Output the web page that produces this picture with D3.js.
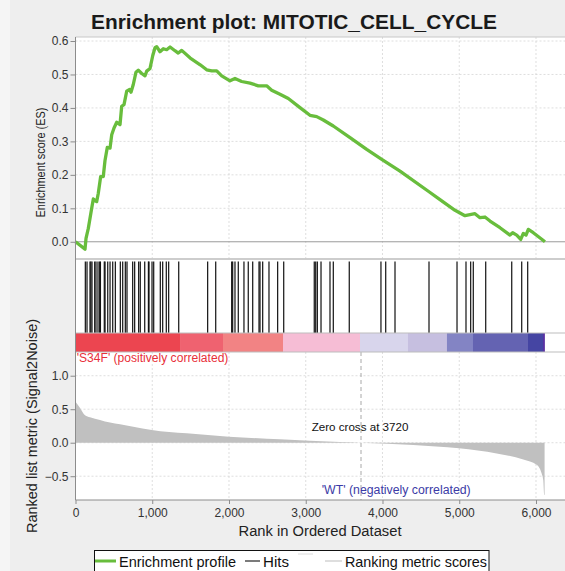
<!DOCTYPE html>
<html lang="en">
<head>
<meta charset="UTF-8" />
<title>Enrichment plot: MITOTIC_CELL_CYCLE</title>
<script src="https://d3js.org/d3.v7.min.js"></script>
<style>
    body { margin: 0; background: #eeeeee; }
    svg { display: block; font-family: "Liberation Sans", Arial, sans-serif; }
</style>
</head>
<body>
<script>
    // Data
    var esPoints = [[0, 0], [124, -0.022], [137, 0.01], [167, 0.04], [211, 0.10], [232, 0.128], [276, 0.12],
        [297, 0.145], [328, 0.195], [362, 0.195], [384, 0.242], [414, 0.282], [450, 0.28], [472, 0.32],
        [502, 0.34], [537, 0.357], [580, 0.35], [602, 0.405], [632, 0.41], [667, 0.45], [701, 0.455],
        [723, 0.447], [753, 0.47], [788, 0.507], [818, 0.513], [863, 0.503], [906, 0.496], [928, 0.51],
        [971, 0.518], [1006, 0.556], [1036, 0.58], [1058, 0.583], [1101, 0.568], [1144, 0.577],
        [1188, 0.574], [1232, 0.582], [1296, 0.571], [1339, 0.564], [1384, 0.572], [1495, 0.549],
        [1625, 0.529], [1709, 0.514], [1775, 0.511], [1840, 0.511], [1905, 0.496], [2013, 0.481],
        [2078, 0.488], [2165, 0.479], [2274, 0.474], [2382, 0.466], [2491, 0.466], [2556, 0.453],
        [2664, 0.441], [2773, 0.428], [2925, 0.401], [3055, 0.378], [3143, 0.374], [3229, 0.364],
        [3359, 0.346], [3577, 0.311], [3794, 0.276], [3990, 0.246], [4228, 0.211], [4597, 0.151],
        [4749, 0.126], [4945, 0.094], [5075, 0.078], [5205, 0.084], [5270, 0.072], [5335, 0.074],
        [5401, 0.062], [5531, 0.042], [5661, 0.02], [5696, 0.027], [5749, 0.02], [5801, 0.007],
        [5835, 0.025], [5870, 0.02], [5900, 0.037], [5965, 0.027], [6117, 0]];

    var hitRanks = [128, 150, 189, 200, 215, 250, 267, 293, 315, 325, 375, 385, 420, 450, 485, 519,
        584, 615, 649, 671, 745, 771, 823, 844, 902, 950, 958, 997, 1019, 1105, 1136, 1183, 1214, 1345,
        1722, 1827, 2035, 2048, 2078, 2121, 2195, 2251, 2309, 2391, 2404, 2439, 2521, 2634, 2713,
        3111, 3130, 3151, 3199, 3316, 3359, 3567, 3980, 4042, 4163, 4606, 4971, 5088, 5149, 5183,
        5345, 5684, 5814, 5892];

    var metricPoints = [[0, 0.61], [59, 0.52], [124, 0.41], [189, 0.38], [319, 0.34], [450, 0.30],
        [580, 0.275], [753, 0.24], [993, 0.19], [1449, 0.14], [2000, 0.09], [2664, 0.05], [3446, 0.01],
        [3720, 0], [4401, -0.034], [4997, -0.084], [5488, -0.16], [5835, -0.25], [6009, -0.33],
        [6074, -0.46], [6095, -0.56], [6108, -0.78], [6112, -0.78]];

    var barStops = [0, 1362, 1922, 2704, 3707, 4332, 4840, 5179, 5896, 6091, 6112];
    var barColors = ["#ec4550", "#ef6270", "#f28384", "#f6bdd5", "#d8d5ec", "#c6bfe0",
        "#8384c4", "#6463b2", "#4545a3", "#5a32a2"];

    var esTicks = [0, 0.1, 0.2, 0.3, 0.4, 0.5, 0.6];
    var metricTicks = [-0.5, 0, 0.5, 1.0];
    var rankTicks = [0, 1000, 2000, 3000, 4000, 5000, 6000];
    var zeroCross = 3720;

    var w = 565;
    var h = 571;
    var left = 75.5, right = 565;
    var esTop = 37, esBottom = 258.5;
    var hitTop = 259, hitBottom = 333;
    var barTop = 333, barBottom = 352;
    var metTop = 352, metBottom = 500;

    var svg = d3.select("body")
        .append("svg")
        .attr("width", w)
        .attr("height", h);

    // Scales
    var xScale = d3.scaleLinear().domain([0, 6378]).range([left, right]);
    var esScale = d3.scaleLinear().domain([-0.05, 0.612]).range([esBottom, esTop]);
    var metScale = d3.scaleLinear().domain([-0.855, 1.354]).range([metBottom, metTop]);

    // Background
    svg.append("rect").attr("width", w).attr("height", h).attr("fill", "#eeeeee");
    svg.append("rect").attr("width", 10).attr("height", h).attr("fill", "#f5f5f5");
    svg.append("rect")
        .attr("x", left).attr("y", esTop)
        .attr("width", right - left).attr("height", metBottom - esTop)
        .attr("fill", "white");

    // Grid
    var grid = svg.append("g")
        .attr("stroke", "#d6d6d6")
        .attr("stroke-dasharray", "2,2")
        .attr("stroke-width", 0.8);

    grid.selectAll(".esh").data(esTicks.filter(function(d) { return d > 0; }))
        .enter().append("line")
        .attr("x1", left).attr("x2", right)
        .attr("y1", function(d) { return esScale(d); })
        .attr("y2", function(d) { return esScale(d); });

    grid.selectAll(".esv").data(rankTicks.slice(1))
        .enter().append("line")
        .attr("x1", function(d) { return xScale(d); })
        .attr("x2", function(d) { return xScale(d); })
        .attr("y1", esTop).attr("y2", esBottom);

    grid.selectAll(".mh").data(metricTicks)
        .enter().append("line")
        .attr("x1", left).attr("x2", right)
        .attr("y1", function(d) { return metScale(d); })
        .attr("y2", function(d) { return metScale(d); });

    grid.selectAll(".mv").data(rankTicks.slice(1))
        .enter().append("line")
        .attr("x1", function(d) { return xScale(d); })
        .attr("x2", function(d) { return xScale(d); })
        .attr("y1", metTop).attr("y2", metBottom);

    // ES zero line
    svg.append("line")
        .attr("x1", left).attr("x2", right)
        .attr("y1", esScale(0)).attr("y2", esScale(0))
        .attr("stroke", "#9a9a9a").attr("stroke-width", 1);

    // Ranked metric area
    var area = d3.area()
        .x(function(d) { return xScale(d[0]); })
        .y0(metScale(0))
        .y1(function(d) { return metScale(d[1]); })
        .curve(d3.curveMonotoneX);

    svg.append("path")
        .datum(metricPoints)
        .attr("d", area)
        .attr("fill", "#c0c0c0");

    // Zero cross marker
    svg.append("line")
        .attr("x1", xScale(zeroCross)).attr("x2", xScale(zeroCross))
        .attr("y1", barBottom).attr("y2", metBottom)
        .attr("stroke", "#a8a8a8")
        .attr("stroke-dasharray", "4,3");

    // Enrichment profile
    var line = d3.line()
        .x(function(d) { return xScale(d[0]); })
        .y(function(d) { return esScale(d[1]); });

    svg.append("path")
        .datum(esPoints)
        .attr("d", line)
        .attr("fill", "none")
        .attr("stroke", "#68bd3c")
        .attr("stroke-width", 3.3)
        .attr("stroke-linejoin", "round");

    // Hits
    svg.selectAll(".hit").data(hitRanks)
        .enter().append("line")
        .attr("x1", function(d) { return xScale(d); })
        .attr("x2", function(d) { return xScale(d); })
        .attr("y1", hitTop + 2.5).attr("y2", hitBottom)
        .attr("stroke", "#111")
        .attr("stroke-width", 1.2);

    // Colour bar
    svg.selectAll(".band").data(barColors)
        .enter().append("rect")
        .attr("x", function(d, i) { return xScale(barStops[i]); })
        .attr("width", function(d, i) { return xScale(barStops[i + 1]) - xScale(barStops[i]) + 0.3; })
        .attr("y", barTop).attr("height", barBottom - barTop)
        .attr("fill", function(d) { return d; });

    // Panel borders
    var borders = [[esTop, "#c8c8c8", 1], [hitTop, "#bdbdbd", 1.5], [barTop, "#bdbdbd", 1], [barBottom, "#bdbdbd", 1]];
    svg.selectAll(".border").data(borders)
        .enter().append("line")
        .attr("x1", left).attr("x2", right)
        .attr("y1", function(d) { return d[0]; })
        .attr("y2", function(d) { return d[0]; })
        .attr("stroke", function(d) { return d[1]; })
        .attr("stroke-width", function(d) { return d[2]; });

    svg.append("line")
        .attr("x1", left).attr("x2", left)
        .attr("y1", esTop).attr("y2", metBottom)
        .attr("stroke", "#8c8c8c");
    svg.append("line")
        .attr("x1", left).attr("x2", right)
        .attr("y1", metBottom).attr("y2", metBottom)
        .attr("stroke", "#8c8c8c");

    // Axes
    var esAxis = svg.append("g")
        .attr("transform", "translate(" + left + ",0)")
        .call(d3.axisLeft(esScale).tickValues(esTicks).tickFormat(d3.format(".1f")).tickSize(5).tickPadding(2));

    var metAxis = svg.append("g")
        .attr("transform", "translate(" + left + ",0)")
        .call(d3.axisLeft(metScale).tickValues(metricTicks).tickFormat(d3.format(".1f")).tickSize(5).tickPadding(2));

    var rankAxis = svg.append("g")
        .attr("transform", "translate(0," + metBottom + ")")
        .call(d3.axisBottom(xScale).tickValues(rankTicks).tickFormat(d3.format(",")).tickSize(4).tickPadding(4));

    [esAxis, metAxis, rankAxis].forEach(function(a) {
        a.select(".domain").remove();
        a.selectAll("line").attr("stroke", "#8c8c8c");
        a.selectAll("text")
            .attr("fill", "#333")
            .style("font-family", "Liberation Sans, Arial, sans-serif")
            .style("font-size", "12px");
    });

    // Titles and labels
    svg.append("text")
        .attr("x", 294).attr("y", 28.5)
        .attr("text-anchor", "middle")
        .attr("textLength", 406)
        .attr("lengthAdjust", "spacingAndGlyphs")
        .style("font-size", "20.9px")
        .style("font-weight", "bold")
        .attr("fill", "#1a1a1a")
        .text("Enrichment plot: MITOTIC_CELL_CYCLE");

    svg.append("text")
        .attr("x", 320).attr("y", 536)
        .attr("text-anchor", "middle")
        .attr("textLength", 163)
        .attr("lengthAdjust", "spacingAndGlyphs")
        .style("font-size", "14.7px")
        .attr("fill", "#222")
        .text("Rank in Ordered Dataset");

    svg.append("text")
        .attr("transform", "translate(45,162.5) rotate(-90)")
        .attr("text-anchor", "middle")
        .attr("textLength", 110)
        .attr("lengthAdjust", "spacingAndGlyphs")
        .style("font-size", "13.5px")
        .attr("fill", "#222")
        .text("Enrichment score (ES)");

    svg.append("text")
        .attr("transform", "translate(37,426) rotate(-90)")
        .attr("text-anchor", "middle")
        .attr("textLength", 214)
        .attr("lengthAdjust", "spacingAndGlyphs")
        .style("font-size", "14.5px")
        .attr("fill", "#222")
        .text("Ranked list metric (Signal2Noise)");

    svg.append("text")
        .attr("x", 76.7).attr("y", 362)
        .attr("textLength", 151.7)
        .attr("lengthAdjust", "spacingAndGlyphs")
        .style("font-size", "12px")
        .attr("fill", "#e8303a")
        .text("'S34F' (positively correlated)");

    svg.append("text")
        .attr("x", 321.7).attr("y", 494)
        .attr("textLength", 149)
        .attr("lengthAdjust", "spacingAndGlyphs")
        .style("font-size", "12px")
        .attr("fill", "#3b3ba6")
        .text("'WT' (negatively correlated)");

    svg.append("text")
        .attr("x", 311.7).attr("y", 431)
        .attr("textLength", 96.7)
        .attr("lengthAdjust", "spacingAndGlyphs")
        .style("font-size", "11.5px")
        .attr("fill", "#111")
        .text("Zero cross at " + zeroCross);

    // Legend
    var legend = svg.append("g");
    legend.append("rect")
        .attr("x", 94.5).attr("y", 550.5)
        .attr("width", 394.5).attr("height", 30)
        .attr("fill", "white")
        .attr("stroke", "#111");

    var legendItems = [
        { x1: 95, x2: 116, y: 561, color: "#68bd3c", width: 3, label: "Enrichment profile", tx: 119, tl: 117 },
        { x1: 245, x2: 260, y: 561, color: "#222", width: 1.2, label: "Hits", tx: 263, tl: 26 },
        { x1: 298, x2: 313, y: 554, color: "#dcdcdc", width: 1, label: "", tx: 0, tl: 0 },
        { x1: 325, x2: 342, y: 561, color: "#c8c8c8", width: 1.2, label: "Ranking metric scores", tx: 345, tl: 142 }
    ];

    legend.selectAll(".lline").data(legendItems)
        .enter().append("line")
        .attr("x1", function(d) { return d.x1; })
        .attr("x2", function(d) { return d.x2; })
        .attr("y1", function(d) { return d.y; })
        .attr("y2", function(d) { return d.y; })
        .attr("stroke", function(d) { return d.color; })
        .attr("stroke-width", function(d) { return d.width; });

    legend.selectAll(".ltext").data(legendItems.filter(function(d) { return d.label; }))
        .enter().append("text")
        .attr("x", function(d) { return d.tx; })
        .attr("y", 566.5)
        .attr("textLength", function(d) { return d.tl; })
        .attr("lengthAdjust", "spacingAndGlyphs")
        .style("font-size", "14.5px")
        .attr("fill", "#111")
        .text(function(d) { return d.label; });
</script>
</body>
</html>
